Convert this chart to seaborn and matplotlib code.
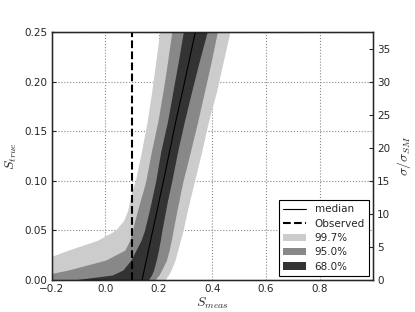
import numpy as np
import pandas as pd
import seaborn as sns
from matplotlib import pyplot as plt
from matplotlib.lines import Line2D
from matplotlib.patches import Patch

# S_true grid and band edges in S_meas
s_true = [0, 0.005, 0.01, 0.02, 0.03, 0.04, 0.05, 0.06, 0.07, 0.08, 0.09, 0.10,
          0.13, 0.16, 0.19, 0.22, 0.25]
median = [0.137, 0.141, 0.145, 0.153, 0.161, 0.169, 0.177, 0.185, 0.193, 0.201, 0.209, 0.217,
          0.240, 0.263, 0.288, 0.312, 0.336]
lo_997 = [-0.45, -0.39, -0.33, -0.24, -0.14, -0.03, 0.037, 0.068, 0.083, 0.091, 0.099, 0.112,
          0.135, 0.156, 0.173, 0.188, 0.203]
hi_997 = [0.222, 0.235, 0.245, 0.260, 0.270, 0.280, 0.290, 0.298, 0.306, 0.315, 0.324, 0.333,
          0.360, 0.385, 0.415, 0.440, 0.465]
lo_950 = [-0.32, -0.23, -0.14, 0.0, 0.072, 0.091, 0.101, 0.110, 0.120, 0.130, 0.141, 0.151,
          0.172, 0.196, 0.215, 0.232, 0.248]
hi_950 = [0.185, 0.200, 0.210, 0.228, 0.238, 0.246, 0.253, 0.260, 0.267, 0.275, 0.282, 0.290,
          0.318, 0.345, 0.370, 0.395, 0.418]
lo_680 = [-0.12, 0.025, 0.065, 0.095, 0.114, 0.133, 0.146, 0.155, 0.164, 0.172, 0.180, 0.188,
          0.207, 0.232, 0.252, 0.272, 0.291]
hi_680 = [0.160, 0.172, 0.180, 0.190, 0.198, 0.205, 0.211, 0.218, 0.225, 0.232, 0.240, 0.248,
          0.270, 0.295, 0.322, 0.350, 0.380]
observed = 0.1
band_labels = ['99.7%', '95.0%', '68.0%']
band_colors = ['#cccccc', '#888888', '#333333']
sigma_ratio_max = 37.5
right_ticks = [0, 5, 10, 15, 20, 25, 30, 35]

if __name__ == '__main__':
    sns.set_style('white')
    plt.rcParams['font.family'] = ['DejaVu Sans']
    plt.rcParams['mathtext.fontset'] = 'cm'

    fig = plt.figure(figsize=(4.15, 3.12), dpi=100)
    ax = fig.add_axes([0.125, 0.1026, 0.774, 0.7946])

    bands = [(lo_997, hi_997), (lo_950, hi_950), (lo_680, hi_680)]
    for (lo, hi), col in zip(bands, band_colors):
        ax.fill_betweenx(s_true, lo, hi, color=col, linewidth=0)

    df = pd.DataFrame({'S_meas': median, 'S_true': s_true})
    sns.lineplot(data=df, x='S_meas', y='S_true', orient='y', sort=False,
                 color='black', linewidth=0.8, ax=ax)
    ax.axvline(observed, color='black', linestyle='--', linewidth=1.5)

    ax.set_xlim(-0.2, 1.0)
    ax.set_ylim(0, 0.25)
    ax.set_xticks([-0.2, 0.0, 0.2, 0.4, 0.6, 0.8])
    ax.set_yticks([0, 0.05, 0.10, 0.15, 0.20, 0.25])
    ax.set_xticklabels(['\u22120.2', '0.0', '0.2', '0.4', '0.6', '0.8'])
    ax.set_yticklabels(['0.00', '0.05', '0.10', '0.15', '0.20', '0.25'])
    ax.tick_params(direction='in', labelsize=7.5, length=3, pad=3)
    ax.grid(True, linestyle=':', color='#888888', linewidth=0.8)
    ax.set_xlabel('$S_{meas}$', fontsize=10, labelpad=1)
    ax.set_ylabel('$S_{true}$', fontsize=10, labelpad=4)
    for sp in ax.spines.values():
        sp.set_color('black')
        sp.set_linewidth(1.0)

    ax2 = ax.twinx()
    ax2.set_ylim(0, sigma_ratio_max)
    ax2.set_yticks(right_ticks)
    ax2.tick_params(direction='in', labelsize=7.5, length=3, pad=3)
    ax2.set_ylabel('$\\sigma/\\sigma_{SM}$', fontsize=10, labelpad=3)
    ax2.grid(False)

    handles = [Line2D([], [], color='black', linewidth=0.8),
               Line2D([], [], color='black', linestyle='--', linewidth=1.5)]
    handles += [Patch(facecolor=c, edgecolor='none') for c in band_colors]
    labels = ['median', 'Observed'] + band_labels
    leg = ax2.legend(handles, labels, loc='lower right', fontsize=7.5, frameon=True,
                     fancybox=False, borderaxespad=0.4, handlelength=2.2,
                     labelspacing=0.42, borderpad=0.4)
    leg.get_frame().set_edgecolor('black')
    leg.get_frame().set_linewidth(0.8)
    leg.get_frame().set_alpha(1)

    fig.savefig('out.png', dpi=100)
